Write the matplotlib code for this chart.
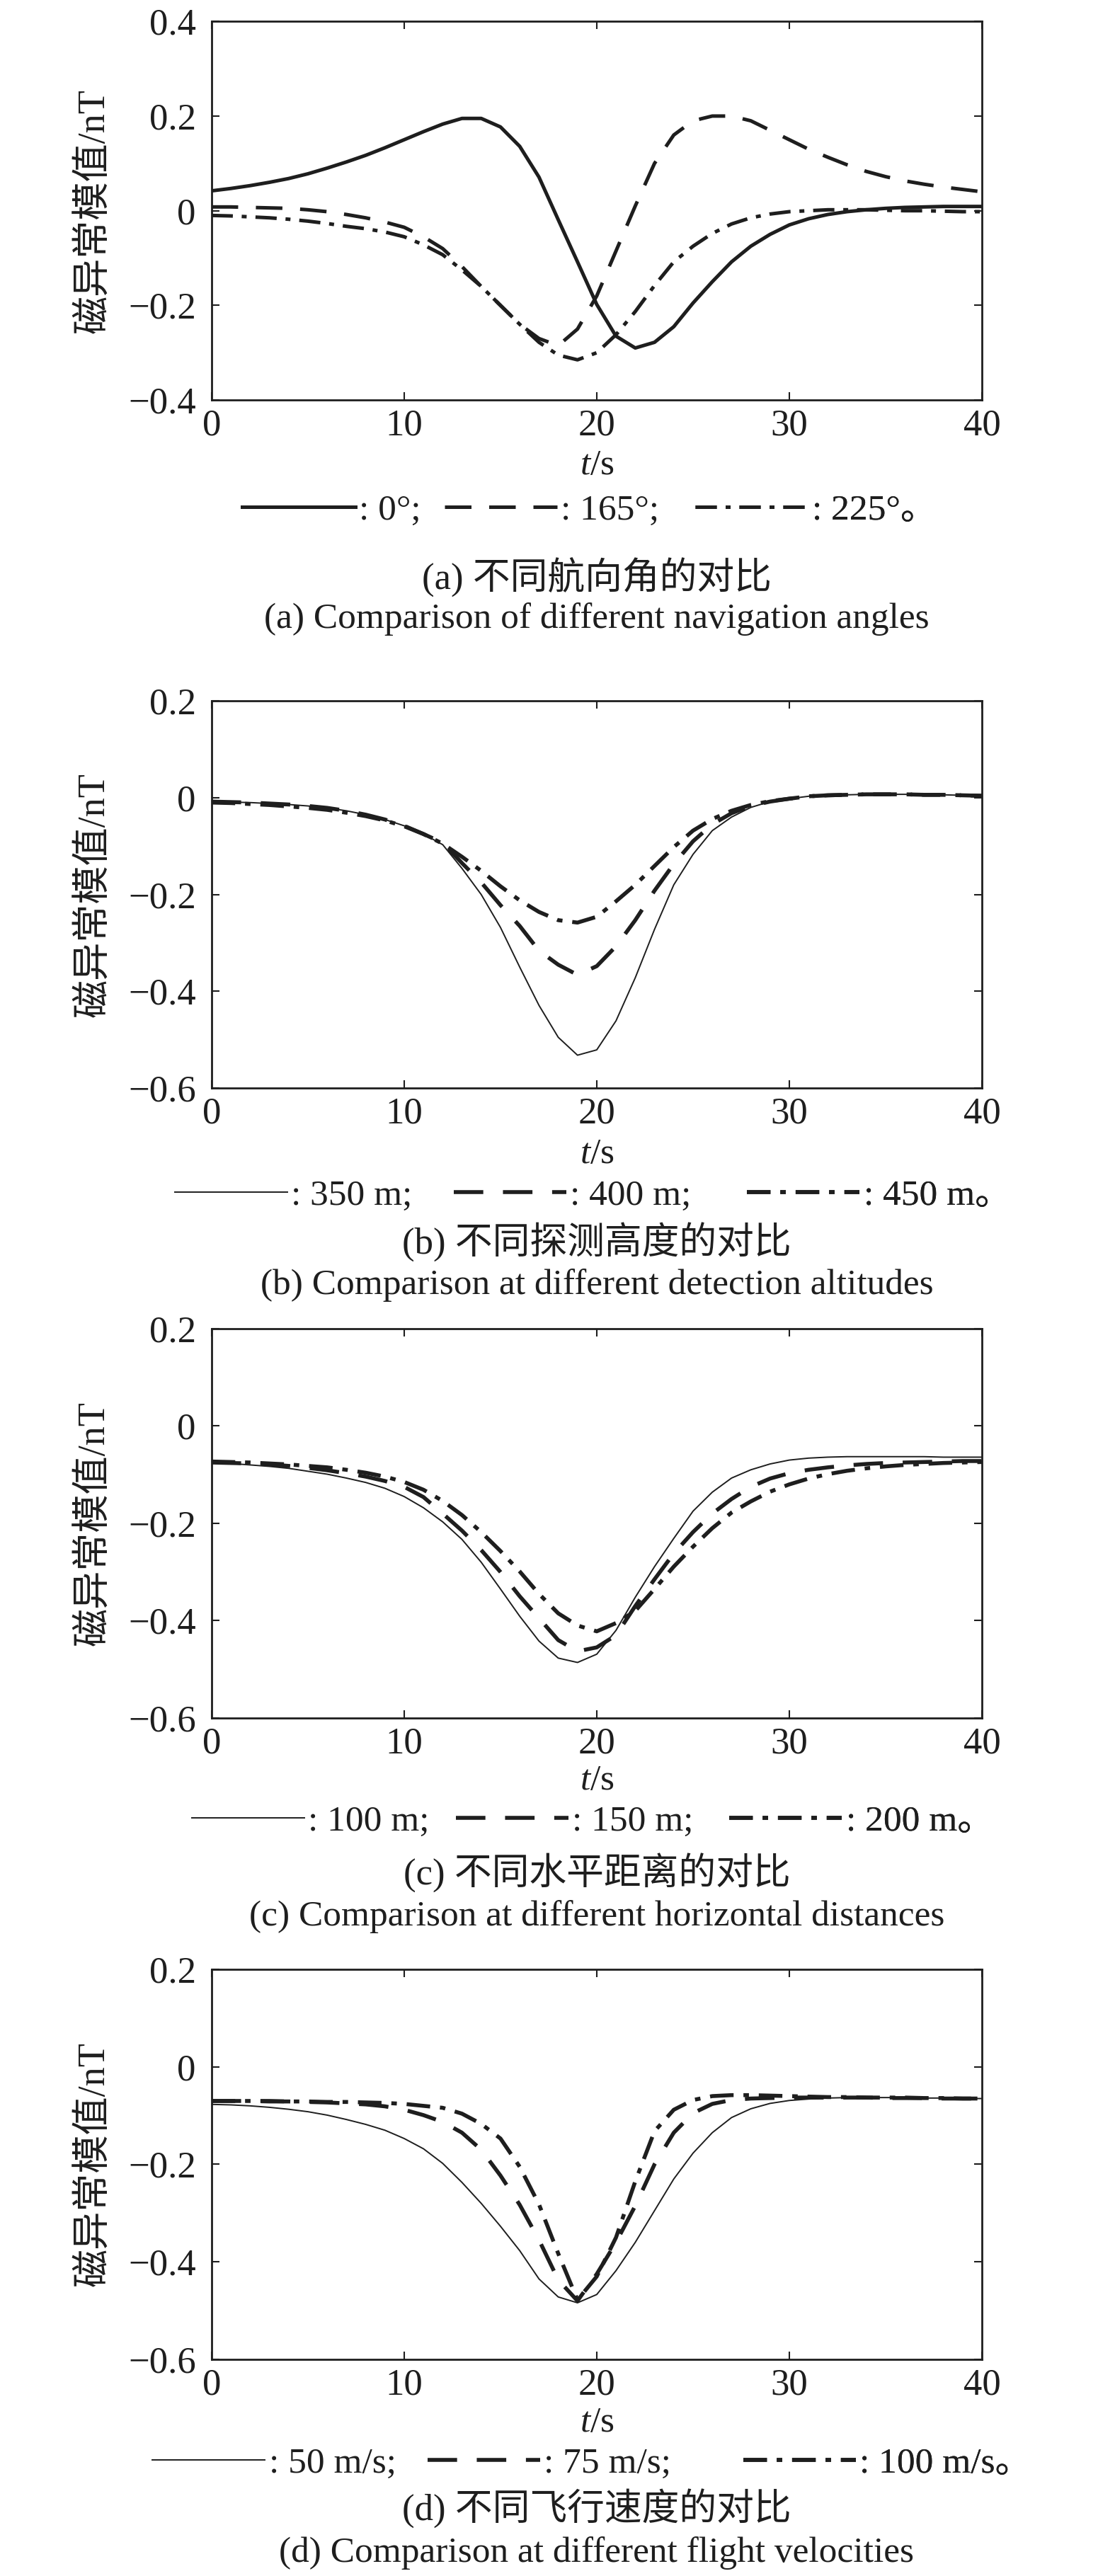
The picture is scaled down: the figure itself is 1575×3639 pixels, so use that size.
import numpy as np
import matplotlib
matplotlib.use('Agg')
import matplotlib.pyplot as plt
from matplotlib.ticker import FuncFormatter

plt.rcParams['font.family'] = ['Liberation Serif', 'Noto Sans CJK SC']
plt.rcParams['mathtext.fontset'] = 'custom'
plt.rcParams['mathtext.rm'] = 'Liberation Serif'
plt.rcParams['mathtext.it'] = 'Liberation Serif:italic'

# time axis, 1 s sampling
t = list(range(0, 41))

# (a) navigation angles
a_0 = [0.042, 0.047, 0.053, 0.060, 0.068, 0.078, 0.090, 0.103, 0.117, 0.133, 0.150,
       0.167, 0.183, 0.195, 0.195, 0.177, 0.136, 0.071, -0.019, -0.108, -0.198,
       -0.265, -0.290, -0.278, -0.245, -0.195, -0.150, -0.108, -0.075, -0.050, -0.030,
       -0.017, -0.008, -0.002, 0.002, 0.005, 0.007, 0.008, 0.009, 0.009, 0.009]
a_165 = [0.008, 0.008, 0.007, 0.006, 0.005, 0.002, -0.002, -0.008, -0.015, -0.024, -0.035,
         -0.055, -0.080, -0.118, -0.160, -0.200, -0.240, -0.270, -0.285, -0.250, -0.180,
         -0.085, 0.010, 0.100, 0.160, 0.190, 0.200, 0.200, 0.190, 0.170, 0.150,
         0.130, 0.113, 0.097, 0.083, 0.072, 0.063, 0.056, 0.050, 0.045, 0.040]
a_225 = [-0.010, -0.011, -0.013, -0.015, -0.018, -0.022, -0.027, -0.033, -0.038, -0.045, -0.055,
         -0.072, -0.093, -0.125, -0.160, -0.200, -0.240, -0.278, -0.305, -0.315, -0.300,
         -0.262, -0.213, -0.158, -0.108, -0.075, -0.048, -0.028, -0.015, -0.007, -0.002,
         0.000, 0.002, 0.002, 0.002, 0.001, 0.000, 0.000, -0.001, -0.002, -0.002]

# (b) detection altitudes
b_350 = [-0.008, -0.009, -0.010, -0.012, -0.014, -0.017, -0.021, -0.027, -0.035, -0.045, -0.058,
         -0.075, -0.097, -0.146, -0.200, -0.268, -0.350, -0.429, -0.495, -0.532, -0.521,
         -0.461, -0.372, -0.272, -0.180, -0.117, -0.068, -0.040, -0.020, -0.008, -0.002,
         0.003, 0.005, 0.006, 0.007, 0.007, 0.007, 0.006, 0.006, 0.005, 0.004]
b_400 = [-0.008, -0.009, -0.010, -0.012, -0.014, -0.017, -0.021, -0.027, -0.035, -0.045, -0.058,
         -0.075, -0.093, -0.135, -0.175, -0.222, -0.265, -0.316, -0.345, -0.366, -0.348,
         -0.307, -0.253, -0.192, -0.137, -0.090, -0.055, -0.032, -0.017, -0.008, -0.002,
         0.003, 0.005, 0.006, 0.007, 0.007, 0.007, 0.006, 0.006, 0.005, 0.004]
b_450 = [-0.010, -0.011, -0.013, -0.015, -0.018, -0.021, -0.025, -0.031, -0.038, -0.047, -0.059,
         -0.075, -0.095, -0.122, -0.151, -0.183, -0.212, -0.236, -0.253, -0.258, -0.246,
         -0.214, -0.180, -0.141, -0.102, -0.068, -0.044, -0.027, -0.015, -0.007, -0.002,
         0.003, 0.005, 0.006, 0.007, 0.007, 0.007, 0.006, 0.006, 0.005, 0.004]

# (c) horizontal distances
c_100 = [-0.075, -0.077, -0.080, -0.083, -0.087, -0.093, -0.099, -0.107, -0.116, -0.128, -0.145,
         -0.168, -0.197, -0.233, -0.280, -0.335, -0.391, -0.442, -0.477, -0.486, -0.469,
         -0.420, -0.352, -0.289, -0.231, -0.175, -0.136, -0.107, -0.090, -0.078, -0.070,
         -0.066, -0.064, -0.063, -0.063, -0.063, -0.063, -0.063, -0.064, -0.064, -0.064]
c_150 = [-0.075, -0.076, -0.077, -0.079, -0.082, -0.086, -0.091, -0.097, -0.104, -0.113, -0.125,
         -0.146, -0.180, -0.215, -0.255, -0.300, -0.350, -0.395, -0.440, -0.463, -0.455,
         -0.430, -0.370, -0.315, -0.262, -0.218, -0.180, -0.150, -0.125, -0.108, -0.097,
         -0.090, -0.085, -0.081, -0.078, -0.076, -0.075, -0.074, -0.073, -0.072, -0.072]
c_200 = [-0.073, -0.074, -0.075, -0.077, -0.079, -0.082, -0.085, -0.090, -0.096, -0.104, -0.115,
         -0.131, -0.154, -0.183, -0.218, -0.257, -0.299, -0.345, -0.385, -0.410, -0.422,
         -0.405, -0.380, -0.335, -0.289, -0.248, -0.210, -0.178, -0.155, -0.135, -0.120,
         -0.108, -0.099, -0.092, -0.087, -0.083, -0.080, -0.078, -0.076, -0.075, -0.074]

# (d) flight velocities
d_50 = [-0.077, -0.078, -0.080, -0.083, -0.087, -0.092, -0.099, -0.108, -0.118, -0.130, -0.147,
        -0.168, -0.198, -0.237, -0.280, -0.327, -0.377, -0.435, -0.472, -0.484, -0.467,
        -0.418, -0.360, -0.295, -0.230, -0.177, -0.135, -0.104, -0.086, -0.075, -0.069,
        -0.066, -0.064, -0.063, -0.063, -0.063, -0.063, -0.064, -0.064, -0.065, -0.065]
d_75 = [-0.070, -0.070, -0.070, -0.071, -0.071, -0.072, -0.073, -0.075, -0.077, -0.081, -0.088,
        -0.099, -0.113, -0.135, -0.170, -0.223, -0.283, -0.355, -0.437, -0.480, -0.425,
        -0.360, -0.285, -0.200, -0.135, -0.095, -0.076, -0.068, -0.065, -0.064, -0.063,
        -0.063, -0.063, -0.063, -0.063, -0.064, -0.064, -0.064, -0.065, -0.065, -0.065]
d_100 = [-0.070, -0.070, -0.070, -0.070, -0.071, -0.071, -0.072, -0.072, -0.073, -0.074, -0.076,
         -0.080, -0.084, -0.096, -0.117, -0.147, -0.205, -0.282, -0.383, -0.478, -0.430,
         -0.350, -0.235, -0.132, -0.088, -0.068, -0.060, -0.058, -0.058, -0.059, -0.060,
         -0.061, -0.062, -0.062, -0.063, -0.063, -0.063, -0.064, -0.064, -0.065, -0.065]

labels_a = [': 0°;', ': 165°;', ': 225°。']
labels_b = [': 350 m;', ': 400 m;', ': 450 m。']
labels_c = [': 100 m;', ': 150 m;', ': 200 m。']
labels_d = [': 50 m/s;', ': 75 m/s;', ': 100 m/s。']

captions_cn = ['(a) 不同航向角的对比', '(b) 不同探测高度的对比',
               '(c) 不同水平距离的对比', '(d) 不同飞行速度的对比']
captions_en = ['(a) Comparison of different navigation angles',
               '(b) Comparison at different detection altitudes',
               '(c) Comparison at different horizontal distances',
               '(d) Comparison at different flight velocities']

yticks_a = [-0.4, -0.2, 0, 0.2, 0.4]
yticks_bcd = [-0.6, -0.4, -0.2, 0, 0.2]

# legend entries: left edge of each entry (axes fraction) and row height
panels = [
    dict(series=[a_0, a_165, a_225], labels=labels_a, yticks=yticks_a,
         rect=[0.1898, 0.8447, 0.6908, 0.1470], thin=False,
         legx=(0.040, 0.302, 0.628), legy=-0.292, xlab=-0.174, cy=(0.7758, 0.7598)),
    dict(series=[b_350, b_400, b_450], labels=labels_b, yticks=yticks_bcd,
         rect=[0.1898, 0.5776, 0.6908, 0.1503], thin=True,
         legx=(-0.048, 0.314, 0.695), legy=-0.278, xlab=-0.172, cy=(0.5177, 0.5012)),
    dict(series=[c_100, c_150, c_200], labels=labels_c, yticks=yticks_bcd,
         rect=[0.1898, 0.3331, 0.6908, 0.1511], thin=True,
         legx=(-0.026, 0.317, 0.672), legy=-0.267, xlab=-0.162, cy=(0.2729, 0.2561)),
    dict(series=[d_50, d_75, d_100], labels=labels_d, yticks=yticks_bcd,
         rect=[0.1898, 0.0841, 0.6908, 0.1514], thin=True,
         legx=(-0.077, 0.280, 0.690), legy=-0.267, xlab=-0.163, cy=(0.0261, 0.0088)),
]


def fmt(v, pos):
    return ('%g' % v).replace('-', '\u2212')


fig = plt.figure(figsize=(15.75, 36.39), dpi=100)

for i, p in enumerate(panels):
    ax = fig.add_axes(p['rect'])
    s1, s2, s3 = p['series']
    lw_solid = 1.4 if p['thin'] else 3.6
    lw_thick = 4.0 if p['thin'] else 3.6
    l1, = ax.plot(t, s1, color='#1e1e1e', lw=lw_solid)
    l2, = ax.plot(t, s2, color='#1e1e1e', lw=lw_thick, dashes=(7.5, 5))
    l3, = ax.plot(t, s3, color='#1e1e1e', lw=lw_thick, dashes=(6, 2.5, 1.4, 2.5))

    ax.set_xlim(0, 40)
    ax.set_ylim(p['yticks'][0], p['yticks'][-1])
    ax.set_xticks([0, 10, 20, 30, 40])
    ax.set_yticks(p['yticks'])
    ax.yaxis.set_major_formatter(FuncFormatter(fmt))
    ax.tick_params(direction='in', top=True, right=True, length=8, width=1.5,
                   labelsize=38, colors='#1e1e1e')
    ax.tick_params(axis='x', pad=9)
    ax.tick_params(axis='y', pad=16)
    for sp in ax.spines.values():
        sp.set_linewidth(2)
        sp.set_color('#1e1e1e')

    ax.set_xlabel('$t$/s', fontsize=37, color='#1e1e1e')
    ax.xaxis.label.set_va('center')
    ax.xaxis.set_label_coords(0.5, p['xlab'])
    ax.set_ylabel('磁异常模值/nT', fontsize=39, color='#1e1e1e')
    ax.yaxis.label.set_va('center')
    ax.yaxis.set_label_coords(-0.152, 0.5)

    # one legend per entry so each sits where it does in the original
    for line, lab, lx in zip([l1, l2, l3], p['labels'], p['legx']):
        leg = ax.legend([line], [lab], loc='center left', bbox_to_anchor=(lx, p['legy']),
                        frameon=False, fontsize=37, handlelength=3.1, handletextpad=0.1,
                        borderpad=0, borderaxespad=0, labelcolor='#1e1e1e')
        ax.add_artist(leg)

    fig.text(0.5352, p['cy'][0], captions_cn[i], ha='center', va='center',
             fontsize=38, color='#1e1e1e')
    fig.text(0.5352, p['cy'][1], captions_en[i], ha='center', va='center',
             fontsize=37, color='#1e1e1e')

fig.savefig('out.png', dpi=100)
